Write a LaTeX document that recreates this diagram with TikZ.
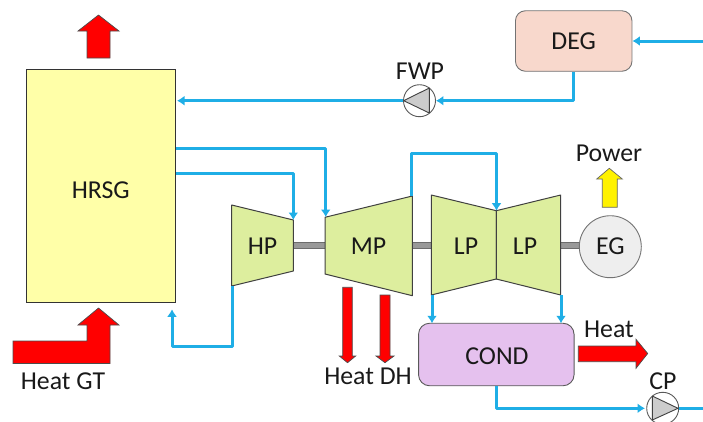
\documentclass[tikz,border=0pt]{standalone}
\usepackage{fontspec}
\setmainfont{Carlito}
\usetikzlibrary{arrows.meta,calc}
\definecolor{flow}{HTML}{1FAEE6}
\definecolor{turb}{HTML}{DDEE9E}
\definecolor{edgeg}{HTML}{404040}
\definecolor{hrsgc}{HTML}{FFFFA8}
\definecolor{degc}{HTML}{F8D8CC}
\definecolor{condc}{HTML}{E5C1EE}
\tikzset{
  flowline/.style={draw=flow,line width=3pt,line join=round,-{Latex[length=7.5pt,width=10pt]}},
  flowplain/.style={draw=flow,line width=3pt},
  turbine/.style={draw=edgeg,line width=1pt,fill=turb,line join=round},
  shaftbar/.style={draw=gray!85!black,fill=gray!80,line width=0.5pt},
  redarrow/.style={draw=black!70,line width=0.7pt,fill=red},
  label/.style={inner sep=0pt,font=\fontsize{25.8}{28}\selectfont,text=black!90},
  pumpc/.style={circle,draw=black!65,line width=0.9pt,fill=white,minimum size=32pt,inner sep=0pt},
  pumpt/.style={draw=black!75,line width=0.9pt,fill=gray!40,line join=round}
}
\begin{document}
\begin{tikzpicture}[x=1pt,y=-1pt]
\useasboundingbox (0,0) rectangle (703,421);
% HRSG
\node[draw=black!80,line width=0.9pt,fill=hrsgc,minimum width=149.5pt,minimum height=233pt,inner sep=0pt] (hrsg) at (100.7,185.5) {};
\node[label] (hrsgl) at (100.7,190) {HRSG};
% DEG, COND
\node[draw=black!55,line width=0.9pt,fill=degc,rounded corners=10pt,minimum width=116.5pt,minimum height=60.5pt,inner sep=0pt] (deg) at (573.7,41) {};
\node[label] (degl) at (573.7,41.5) {DEG};
\node[draw=black!65,line width=0.9pt,fill=condc,rounded corners=11pt,minimum width=155.5pt,minimum height=62.5pt,inner sep=0pt] (cond) at (496.3,354.5) {};
\node[label] (condl) at (497,356.5) {COND};
% shafts
\coordinate (s1) at (293.5,245.5);
\coordinate (s2) at (325,245.5);
\coordinate (s3) at (412.3,245.5);
\coordinate (s4) at (431.3,245.5);
\coordinate (s5) at (560.7,245.5);
\coordinate (s6) at (580,245.5);
\fill[shaftbar] ($(s1)+(0,-3)$) rectangle ($(s2)+(0,3)$);
\fill[shaftbar] ($(s3)+(0,-3)$) rectangle ($(s4)+(0,3)$);
\fill[shaftbar] ($(s5)+(0,-3)$) rectangle ($(s6)+(0,3)$);
% turbines
\draw[turbine] (231.7,205) -- (293.4,220) -- (293.4,271) -- (231.7,286) -- cycle;
\draw[turbine] (325,217.3) -- (412.3,196) -- (412.3,295.7) -- (325,274) -- cycle;
\draw[turbine] (431.3,195) -- (496.3,210.7) -- (496.3,279) -- (431.3,295) -- cycle;
\draw[turbine] (496.3,210.7) -- (560.7,195) -- (560.7,295) -- (496.3,279) -- cycle;
\node[label] (hp) at (262.5,246) {HP};
\node[label] (mp) at (368.5,246) {MP};
\node[label] (lpa) at (466,246) {LP};
\node[label] (lpb) at (525,246) {LP};
% generator
\node[circle,draw=black!55,line width=0.9pt,fill=gray!13,minimum size=62pt,inner sep=0pt,label] (eg) at (610.3,246.7) {EG};
% pumps
\node[pumpc] (fwp) at (419.5,100.7) {};
\draw[pumpt] (403.7,100.7) -- (429.3,88) -- (429.3,113) -- cycle;
\node[pumpc] (cp) at (662.7,408.3) {};
\draw[pumpt] (678,408.3) -- (652.3,396) -- (652.3,420) -- cycle;
\node[label] (fwpl) at (420,71.5) {FWP};
\node[label] (cpl) at (663,381.5) {CP};
% flows
\coordinate (inE) at (703,41);
\draw[flowline] (inE) -- (deg.east);
\draw[flowline] (deg.south) |- (fwp.east);
\draw[flowline] (fwp.west) -- (177,100.7);
\coordinate (h1) at (176,148);
\coordinate (h1e) at (325.7,217);
\coordinate (h2) at (176,173.3);
\coordinate (h2e) at (293.3,220);
\draw[flowline] (h1) -| (h1e);
\draw[flowline] (h2) -| (h2e);
\draw[flowline] (232.5,286) |- (172,346.7) -- (172,309.3);
\draw[flowline] (411.7,196) |- (496.5,153) -- (496.5,210.7);
\draw[flowline] (432,295) -- (432,323.3);
\draw[flowline] (561,295) -- (561,323.3);
\draw[flowline] (cond.south) |- (645,408.3);
\draw[flowplain] (cp.east) -- (703,408.3);
% red arrows
\draw[redarrow] (98.5,15) -- (119,31) -- (110,31) -- (110,58) -- (87,58) -- (87,31) -- (78,31) -- cycle;
\draw[redarrow] (98.5,308) -- (119,325) -- (110,325) -- (110,363.5) -- (13,363.5) -- (13,341) -- (87,341) -- (87,325) -- (78,325) -- cycle;
\draw[redarrow] (578.3,346) -- (636,346) -- (636,339.3) -- (647.7,353.5) -- (636,368.3) -- (636,361.7) -- (578.3,361.7) -- cycle;
\draw[redarrow] (342.7,287.3) -- (352.3,287.3) -- (352.3,356) -- (355.7,356) -- (347.5,362.7) -- (339.3,356) -- (342.7,356) -- cycle;
\draw[redarrow] (380,295) -- (390,295) -- (390,356) -- (394,356) -- (385,362.7) -- (376,356) -- (380,356) -- cycle;
\draw[draw=black!60,line width=0.7pt,fill=yellow] (609.3,168.3) -- (622.3,179) -- (617.3,179) -- (617.3,207.3) -- (602.3,207.3) -- (602.3,179) -- (596.7,179) -- cycle;
% labels
\node[label] (pw) at (609,153) {Power};
\node[label] (ht) at (609,329) {Heat};
\node[label] (hgt) at (63,381) {Heat GT};
\node[label] (hdh) at (368,376.5) {Heat DH};
\end{tikzpicture}
\end{document}
